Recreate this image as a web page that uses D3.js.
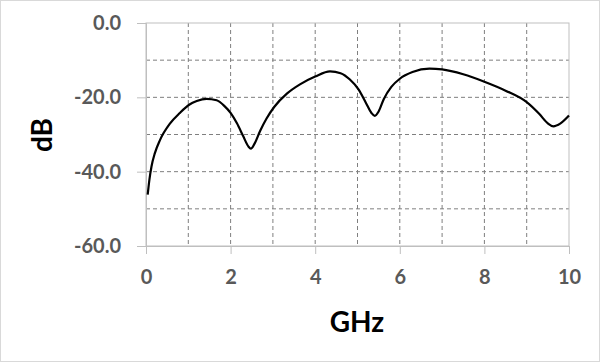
<!DOCTYPE html>
<html><head><meta charset="utf-8">
<script src="https://cdn.jsdelivr.net/npm/d3@7"></script>
<style>body{margin:0;background:#fff}svg{display:block}</style>
</head><body>
<svg id="c" width="600" height="362"></svg>
<script>
const freqGHz = [0.04,0.08,0.13,0.21,0.33,0.57,0.8,1.02,1.2,1.43,1.67,1.85,2.0,2.15,2.3,2.42,2.48,2.56,2.7,2.85,3.03,3.33,3.64,4.0,4.35,4.6,4.82,5.02,5.2,5.33,5.41,5.5,5.62,5.8,6.0,6.3,6.7,7.0,7.5,8.0,8.5,9.0,9.3,9.5,9.63,9.8,10.0];
const valueDB = [-46.2,-42.2,-38.6,-35.0,-31.5,-27.0,-24.2,-22.0,-21.0,-20.4,-20.8,-22.3,-24.2,-27.0,-30.5,-33.2,-33.8,-32.6,-29.0,-25.7,-22.6,-19.0,-16.5,-14.4,-13.0,-13.5,-15.2,-17.8,-21.5,-24.2,-25.0,-23.8,-20.5,-17.2,-15.0,-13.2,-12.3,-12.5,-13.8,-15.8,-18.2,-21.3,-24.5,-27.0,-27.8,-27.0,-24.9];
const xTicks = [0,2,4,6,8,10];
const yTicks = [0,-20,-40,-60];
const xLabel = "GHz";
const yLabel = "dB";

const svg = d3.select("#c");
svg.append("rect").attr("x",0.5).attr("y",0.5).attr("width",599).attr("height",361)
  .attr("fill","#fff").attr("stroke","#d9d9d9");

const L=146, R=569, T=23, B=246;
const x = d3.scaleLinear().domain([0,10]).range([L,R]);
const y = d3.scaleLinear().domain([-60,0]).range([B,T]);

// grid
const g = svg.append("g");
g.selectAll(".vg").data(d3.range(1,10)).join("line")
  .attr("x1",d=>x(d)).attr("x2",d=>x(d)).attr("y1",T).attr("y2",B)
  .attr("stroke","#7f7f7f").attr("stroke-width",1).attr("stroke-dasharray","4,3");
g.selectAll(".hg").data(d3.range(-50,0,10)).join("line")
  .attr("x1",L).attr("x2",R).attr("y1",d=>y(d)).attr("y2",d=>y(d))
  .attr("stroke","#7f7f7f").attr("stroke-width",1).attr("stroke-dasharray","4,3");
// plot border
svg.append("rect").attr("x",L).attr("y",T).attr("width",R-L).attr("height",B-T)
  .attr("fill","none").attr("stroke","#bfbfbf").attr("stroke-width",1);

// axes
const fontFam = "Lato, 'Open Sans', sans-serif";
const xAxis = svg.append("g").attr("transform",`translate(0,${B})`)
  .call(d3.axisBottom(x).tickValues(xTicks).tickSize(8).tickPadding(16).tickFormat(d=>String(d)));
const yAxis = svg.append("g").attr("transform",`translate(${L},0)`)
  .call(d3.axisLeft(y).tickValues(yTicks).tickSize(9).tickPadding(16).tickFormat(d=>d.toFixed(1)));
[xAxis,yAxis].forEach(a=>{
  a.select(".domain").attr("stroke","#bfbfbf");
  a.selectAll(".tick line").attr("stroke","#bfbfbf");
  a.selectAll(".tick text").attr("fill","#595959").attr("font-family",fontFam)
   .attr("font-weight","bold").attr("font-size","20px");
});
xAxis.selectAll(".tick text").attr("dy","0.71em");

// line
svg.append("path").datum(freqGHz.map((f,i)=>[f,valueDB[i]]))
  .attr("fill","none").attr("stroke","#000").attr("stroke-width",2.2).attr("stroke-linejoin","round")
  .attr("d",d3.line().x(d=>x(d[0])).y(d=>y(d[1])).curve(d3.curveMonotoneX));

svg.append("text").attr("x",357).attr("y",332).attr("text-anchor","middle")
  .attr("font-family",fontFam).attr("font-weight","bold").attr("font-size","28px").text(xLabel);
svg.append("text").attr("transform","translate(52,135) rotate(-90)").attr("text-anchor","middle")
  .attr("font-family",fontFam).attr("font-weight","bold").attr("font-size","28px").text(yLabel);
</script>
</body></html>
